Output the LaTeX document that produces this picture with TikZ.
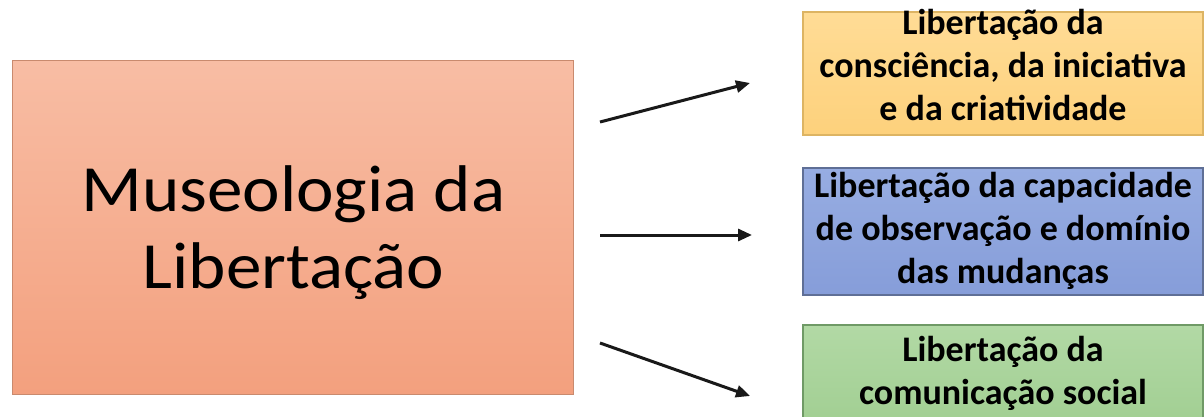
\documentclass[tikz,border=0pt]{standalone}
\usepackage{fontspec}
\setmainfont{Carlito}
\usetikzlibrary{arrows.meta}
\tikzset{
  rbox/.style={draw=#1, line width=1.2pt, inner sep=0pt, minimum width=400pt},
  rtext/.style={inner sep=0pt, align=center, font=\bfseries\fontsize{36}{43}\selectfont},
  conn/.style={line width=3pt, -{Triangle[length=14pt,width=12pt]}, black!90}
}
\definecolor{salmonT}{HTML}{F8BDA4}
\definecolor{salmonB}{HTML}{F3A07E}
\definecolor{salmonD}{HTML}{C98A6E}
\definecolor{yelT}{HTML}{FFDC96}
\definecolor{yelB}{HTML}{FDD17C}
\definecolor{yelD}{HTML}{DDB463}
\definecolor{bluT}{HTML}{97ADE2}
\definecolor{bluB}{HTML}{869DD9}
\definecolor{bluD}{HTML}{5F6F96}
\definecolor{grnT}{HTML}{B2D9A5}
\definecolor{grnB}{HTML}{A2CF93}
\definecolor{grnD}{HTML}{6F9A66}
\begin{document}
\begin{tikzpicture}[x=1pt,y=-1pt]
\clip (0,0) rectangle (1204,417);
\fill[white] (0,0) rectangle (1204,417);
\node[draw=salmonD, line width=1pt, top color=salmonT, bottom color=salmonB,
  minimum width=561pt, minimum height=333pt, inner sep=0pt] (main) at (293.4,227.5) {};
\node[inner sep=0pt] (maintext) at ([yshift=-7pt]main.center)
  {\fontsize{66}{77}\selectfont\scalebox{1.077}[1]{\begin{tabular}{@{}c@{}}Museologia da\\Libertação\end{tabular}}};
\node[rbox=yelD, top color=yelT, bottom color=yelB, minimum height=123pt] (y) at (1003,73.5) {};
\node[rtext] (yt) at ([yshift=8pt]y.center) {Libertação da\\consciência, da iniciativa\\e da criatividade};
\node[rbox=bluD, top color=bluT, bottom color=bluB, minimum height=127pt] (b) at (1003,231.5) {};
\node[rtext] (bt) at ([yshift=1pt]b.center) {Libertação da capacidade\\de observação e domínio\\das mudanças};
\node[rbox=grnD, top color=grnT, bottom color=grnB, minimum height=96pt] (g) at (1003,373) {};
\node[rtext] (gt) at (g.center) {Libertação da\\comunicação social};
\coordinate (s1) at (600,122);
\coordinate (e1) at (750,83);
\coordinate (s2) at (600,235);
\coordinate (e2) at (752,235);
\coordinate (s3) at (600,343);
\coordinate (e3) at (750,396);
\draw[conn] (s1) -- (e1);
\draw[conn] (s2) -- (e2);
\draw[conn] (s3) -- (e3);
\end{tikzpicture}
\end{document}
